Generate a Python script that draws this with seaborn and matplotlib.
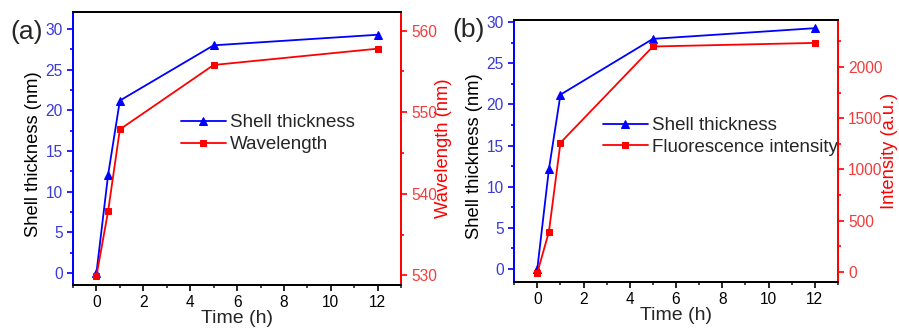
import pandas as pd
import matplotlib
matplotlib.use("Agg")
import matplotlib.pyplot as plt
from matplotlib.ticker import MultipleLocator
import seaborn as sns

# data
time_h = [0, 0.5, 1, 5, 12]
shell_nm = [0.0, 12.1, 21.2, 28.0, 29.3]
wavelength_nm = [529.9, 537.9, 547.9, 555.8, 557.8]
intensity_au = [-10, 390, 1260, 2200, 2235]

sns.set_style("ticks")
plt.rcParams['font.family'] = ['Liberation Sans', 'DejaVu Sans']

BLUE = '#0000ff'
RED = '#ff0000'
BLUE_TXT = '#3a3ad6'
RED_TXT = '#f03c3c'

df = pd.DataFrame({'time': time_h, 'shell': shell_nm,
                   'wl': wavelength_nm, 'inten': intensity_au})

fig = plt.figure(figsize=(8.99, 3.33), dpi=100)
ax_a = fig.add_axes([0.0812, 0.144, 0.365, 0.820])
ax_b = fig.add_axes([0.572, 0.154, 0.360, 0.786])


def style_axes(ax, ax2, rmin, rmaj):
    ax.set_xlim(-1, 13)
    ax.xaxis.set_major_locator(MultipleLocator(2))
    ax.xaxis.set_minor_locator(MultipleLocator(1))
    ax.yaxis.set_major_locator(MultipleLocator(5))
    ax.yaxis.set_minor_locator(MultipleLocator(2.5))
    ax2.yaxis.set_major_locator(MultipleLocator(rmaj))
    ax2.yaxis.set_minor_locator(MultipleLocator(rmin))
    for a in (ax, ax2):
        for s in a.spines.values():
            s.set_linewidth(1.3)
            s.set_visible(True)
        a.spines['top'].set_color('black')
        a.spines['bottom'].set_color('black')
        a.spines['left'].set_color(BLUE)
        a.spines['right'].set_color(RED)
    ax.tick_params(axis='x', which='major', direction='out', length=4, width=1.2,
                   labelsize=11.2, colors='black', top=False)
    ax.tick_params(axis='x', which='minor', direction='out', length=2.5, width=1.2,
                   top=False)
    ax.tick_params(axis='y', which='major', direction='out', length=4, width=1.2,
                   labelsize=11.2, color=BLUE, labelcolor=BLUE_TXT, right=False)
    ax.tick_params(axis='y', which='minor', direction='out', length=2.5, width=1.2,
                   color=BLUE, right=False)
    ax2.tick_params(axis='y', which='major', direction='out', length=4, width=1.2,
                    labelsize=11.2, color=RED, labelcolor=RED_TXT)
    ax2.tick_params(axis='y', which='minor', direction='out', length=2.5, width=1.2,
                    color=RED)
    ax.set_xlabel('Time (h)', fontsize=14, labelpad=0)
    ax.set_ylabel('Shell thickness (nm)', fontsize=13.2, color='black')


# panel (a)
ax_a2 = ax_a.twinx()
sns.lineplot(data=df, x='time', y='shell', ax=ax_a, color=BLUE, marker='^',
             markersize=6, markeredgecolor=BLUE, linewidth=1.3, label='Shell thickness',
             legend=False)
sns.lineplot(data=df, x='time', y='wl', ax=ax_a2, color=RED, marker='s',
             markersize=5, markeredgecolor=RED, linewidth=1.3, label='Wavelength',
             legend=False)
ax_a.set_ylim(-1.5, 32.1)
ax_a2.set_ylim(528.8, 562.3)
style_axes(ax_a, ax_a2, 5, 10)
ax_a2.set_ylabel('Wavelength (nm)', fontsize=13.2, color=RED)
ax_a.yaxis.set_label_coords(-0.095, 0.48)
ax_a2.yaxis.set_label_coords(1.102, 0.5)
h1, l1 = ax_a.get_legend_handles_labels()
h2, l2 = ax_a2.get_legend_handles_labels()
ax_a.legend(h1 + h2, l1 + l2, loc='upper left', bbox_to_anchor=(0.30, 0.66),
            frameon=False, fontsize=13.5, handlelength=2.4, handletextpad=0.2,
            labelspacing=0.25, borderpad=0)
fig.text(0.012, 0.905, '(a)', fontsize=19, va='center', ha='left')

# panel (b)
ax_b2 = ax_b.twinx()
sns.lineplot(data=df, x='time', y='shell', ax=ax_b, color=BLUE, marker='^',
             markersize=6, markeredgecolor=BLUE, linewidth=1.3, label='Shell thickness',
             legend=False)
sns.lineplot(data=df, x='time', y='inten', ax=ax_b2, color=RED, marker='s',
             markersize=5, markeredgecolor=RED, linewidth=1.3,
             label='Fluorescence intensity', legend=False)
ax_b.set_ylim(-1.6, 30.3)
ax_b2.set_ylim(-98, 2459)
style_axes(ax_b, ax_b2, 250, 500)
ax_b2.set_ylabel('Intensity (a.u.)', fontsize=13.2, color=RED)
ax_b.yaxis.set_label_coords(-0.097, 0.48)
ax_b2.yaxis.set_label_coords(1.133, 0.5)
h1, l1 = ax_b.get_legend_handles_labels()
h2, l2 = ax_b2.get_legend_handles_labels()
ax_b.legend(h1 + h2, l1 + l2, loc='upper left', bbox_to_anchor=(0.245, 0.665),
            frameon=False, fontsize=13.5, handlelength=2.4, handletextpad=0.2,
            labelspacing=0.25, borderpad=0)
fig.text(0.503, 0.91, '(b)', fontsize=19, va='center', ha='left')

fig.savefig('out.png', dpi=100)
